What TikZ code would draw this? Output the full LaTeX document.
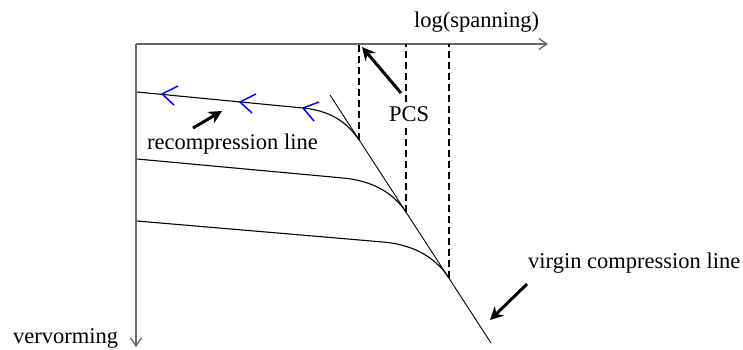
\documentclass[tikz,border=0pt]{standalone}
\usepackage{fontspec}
\setmainfont{Liberation Serif}
\usetikzlibrary{arrows.meta}

\tikzset{
  eixo/.style={draw=black!60, line width=1.3pt, -{Straight Barb[length=8pt,width=11pt]}},
  curva/.style={line width=1.1pt},
  tracejado/.style={line width=1.1pt, dash pattern=on 7pt off 4pt},
  seta/.style={line width=3pt, -{Stealth[length=13pt,width=13pt]}},
  chev/.style={blue, line width=1.5pt},
  rotulo/.style={anchor=base west, inner sep=0pt, font=\fontsize{22.5}{26}\selectfont}
}

\begin{document}
\begin{tikzpicture}[x=1pt, y=-1pt]
        \useasboundingbox (0,0) rectangle (743,349);

        % Eixos
        \coordinate (O) at (136,44);
        \coordinate (xfim) at (548,44);
        \coordinate (yfim) at (136,347);
        \draw[eixo] (O) -- (xfim);
        \draw[eixo] (O) -- (yfim);

        \node[rotulo] (spanning) at (414,27) {log(spanning)};
        \node[rotulo] (vervorming) at (13,343) {vervorming};

        % Virgin compression line e pontos PCS
        \coordinate (v0) at (330,95);
        \coordinate (v1) at (491,343);
        \coordinate (p1) at (359,140);
        \coordinate (p2) at (406,212);
        \coordinate (p3) at (449,278);
        \draw[line width=0.9pt] (v0) -- (v1);

        \draw[tracejado] (p1) -- (p1 |- O);
        \draw[tracejado] (p2) -- (p2 |- O);
        \draw[tracejado] (p3) -- (p3 |- O);

        % Recompression lines
        \coordinate (r0) at (137,92);
        \coordinate (r1) at (303,108);
        \coordinate (m0) at (137,159);
        \coordinate (m1) at (343,178);
        \coordinate (b0) at (137,221);
        \coordinate (b1) at (383,242);
        \draw[curva] (r0) -- (r1) .. controls (330,110.6) and (347,122) .. (p1);
        \draw[curva] (m0) -- (m1) .. controls (370,180.5) and (392,191) .. (p2);
        \draw[curva] (b0) -- (b1) .. controls (410,244.3) and (434,255) .. (p3);

        \coordinate (c1) at (162,94);
        \coordinate (c2) at (240,102);
        \coordinate (c3) at (303,108);
        \draw[chev] ([shift={(16,-8)}]c1) -- (c1) -- ([shift={(12,11)}]c1);
        \draw[chev] ([shift={(16,-8)}]c2) -- (c2) -- ([shift={(12,11)}]c2);
        \draw[chev] ([shift={(16,-6)}]c3) -- (c3) -- ([shift={(11,13)}]c3);

        % Rotulos com setas
        \node[rotulo, fill=white, inner sep=3pt] (pcs) at (386,121) {PCS};
        \node[rotulo] (recomp) at (147,149) {recompression line};
        \node[rotulo] (virgin) at (528,268) {virgin compression line};

        \coordinate (s1) at (193,128);
        \coordinate (t1) at (222,111);
        \coordinate (s2) at (401,93);
        \coordinate (t2) at (362,47);
        \coordinate (s3) at (527,284);
        \coordinate (t3) at (490,320);
        \draw[seta] (s1) -- (t1);
        \draw[seta] (s2) -- (t2);
        \draw[seta] (s3) -- (t3);
    \end{tikzpicture}
\end{document}
